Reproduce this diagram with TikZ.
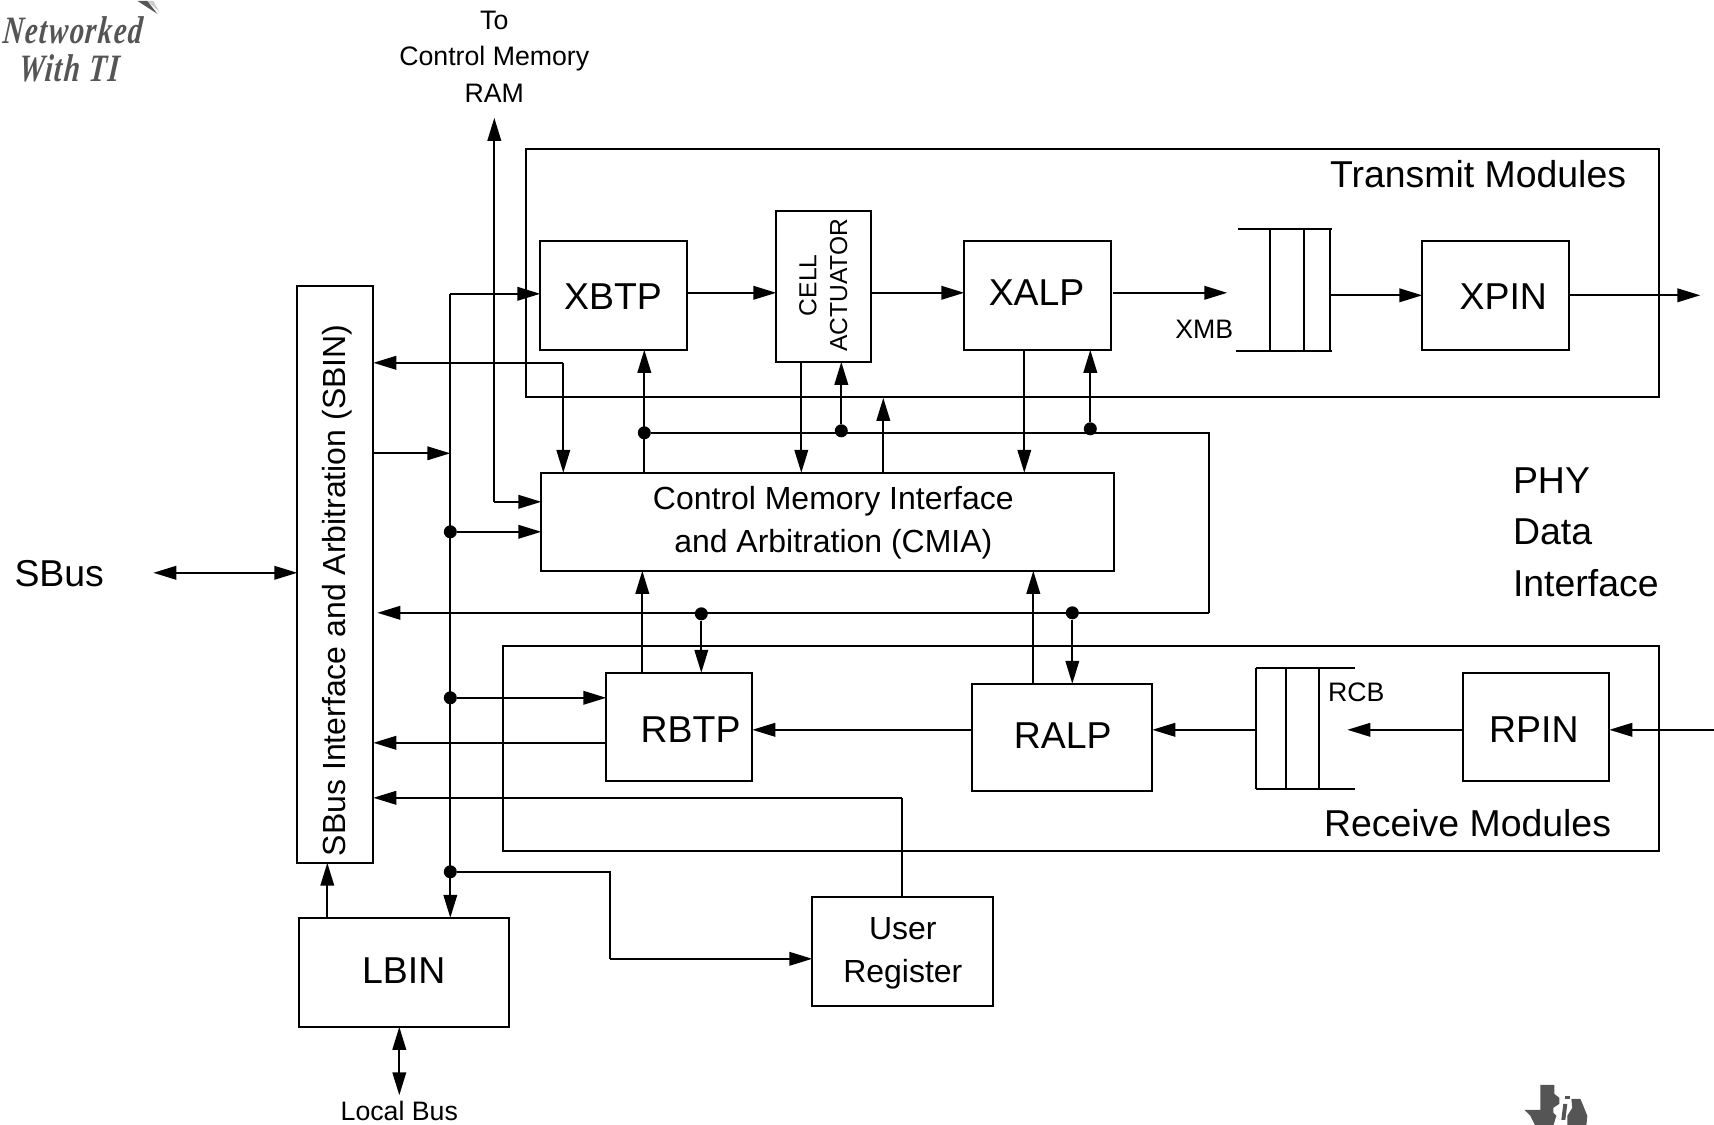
\documentclass[tikz,border=0pt]{standalone}
\usepackage{fontspec}
\setmainfont{Liberation Sans}
\newfontfamily\logofont[FakeSlant=0.12, LetterSpace=5]{Liberation Serif}
\usetikzlibrary{arrows.meta}

\tikzset{
  block/.style={draw, line width=1.2pt, inner sep=0pt, outer sep=0pt, align=center},
  wire/.style={line width=1.2pt},
  bigtext/.style={font=\fontsize{21.3}{25}\selectfont},
  midtext/.style={font=\fontsize{18.2}{24.4}\selectfont},
  smalltext/.style={font=\fontsize{15.2}{20.8}\selectfont},
  logotext/.style={font=\fontsize{21}{25}\logofont\bfseries\itshape, text=logogray, xscale=0.78, yscale=1.05, transform shape, inner sep=0pt},
  joint/.style={circle, fill=black, inner sep=0pt, minimum size=0.26cm}
}
\definecolor{logogray}{HTML}{555555}

\begin{document}
\begin{tikzpicture}[x=0.02cm, y=-0.02cm, >={Triangle[length=0.46cm, width=0.27cm]}]

\useasboundingbox (0,0) rectangle (1714,1125);

\begin{scope}[shift={(0.3,0.8)}]

%% =============== Module frames ===============
\node[block, minimum width=22.66cm, minimum height=4.96cm] (transmit) at (1092.5,272.5) {};
\node[block, minimum width=23.12cm, minimum height=4.10cm] (receive) at (1081,747.5) {};
\node[bigtext, anchor=east] (transmitlabel) at (1632,173.5) {Transmit Modules};
\node[bigtext, anchor=east] (receivelabel) at (1617,822) {Receive Modules};

%% =============== Blocks ===============
\node[block, minimum width=1.52cm, minimum height=11.54cm] (sbin) at (335,573.5) {};
\node[midtext, rotate=90] (sbinlabel) at (337,589.5) {SBus Interface and Arbitration (SBIN)};
\node[block, minimum width=4.20cm, minimum height=2.18cm] (lbin) at (404,971.5) {};
\node[bigtext] (lbinlabel) at (403.4,969.6) {LBIN};
\node[block, minimum width=3.62cm, minimum height=2.18cm] (userreg) at (902.5,950.5) {};
\node[midtext, align=center] (userlabel) at (902.5,952.5) {User\\Register};
\node[block, minimum width=11.46cm, minimum height=1.96cm] (cmia) at (827.5,521) {};
\node[midtext, align=center] (cmialabel) at (833,522.1) {Control Memory Interface\\and Arbitration (CMIA)};

\node[block, minimum width=2.94cm, minimum height=2.18cm] (xbtp) at (613.5,294.5) {};
\node[bigtext] (xbtplabel) at (612.7,295.7) {XBTP};
\node[block, minimum width=1.90cm, minimum height=3.02cm] (cell) at (823.5,285.5) {};
\node[font=\fontsize{14}{17.4}\selectfont, rotate=90, align=center] (celllabel) at (823,284.5) {CELL\\ACTUATOR};
\node[block, minimum width=2.94cm, minimum height=2.18cm] (xalp) at (1037.5,294.5) {};
\node[bigtext] (xalplabel) at (1036.3,291.4) {XALP};
\node[block, minimum width=2.94cm, minimum height=2.18cm] (xpin) at (1495.5,294.5) {};
\node[bigtext] (xpinlabel) at (1503,295.7) {XPIN};

\node[block, minimum width=2.92cm, minimum height=2.16cm] (rbtp) at (679,726) {};
\node[bigtext] (rbtplabel) at (690.3,728.6) {RBTP};
\node[block, minimum width=3.60cm, minimum height=2.14cm] (ralp) at (1062,736.5) {};
\node[bigtext] (ralplabel) at (1062.5,735.2) {RALP};
\node[block, minimum width=2.92cm, minimum height=2.16cm] (rpin) at (1536,726) {};
\node[bigtext] (rpinlabel) at (1533.6,728.6) {RPIN};

%% =============== Buffers ===============
\draw[wire] (1238,228) -- (1332,228);
\draw[wire] (1236,350) -- (1332,350);
\draw[wire] (1270,228) -- (1270,350);
\draw[wire] (1304,228) -- (1304,350);
\draw[wire] (1330,228) -- (1330,351);
\node[smalltext] (xmblabel) at (1204,329) {XMB};

\draw[wire] (1256,667) -- (1355,667);
\draw[wire] (1256,788) -- (1355,788);
\draw[wire] (1256,667) -- (1256,788);
\draw[wire] (1285.5,667) -- (1285.5,788);
\draw[wire] (1319,667) -- (1319,788);
\node[smalltext] (rcblabel) at (1356,692) {RCB};

%% =============== Free ends and junctions ===============
\coordinate (xrow) at (700,292);
\coordinate (xmbin) at (1227,292);
\coordinate (xmbout) at (1330,294.5);
\coordinate (phyout) at (1700,294.5);
\coordinate (phyin) at (1714,729);
\coordinate (rcbin) at (1347,729);
\coordinate (rcbout) at (1256,729);
\coordinate (busTop) at (450,293);
\coordinate (memTop) at (494,117);
\coordinate (memIn) at (494,501);
\coordinate (sbinTap) at (563,362);
\coordinate (rightTop) at (1209,432);
\coordinate (rightBot) at (1209,612);
\coordinate (regTop) at (902,797);
\coordinate (regBend) at (610,871);
\coordinate (regIn) at (610,958);

\node[joint] (jxbtp) at (644,432) {};
\node[joint] (jcell) at (841,430) {};
\node[joint] (jxalp) at (1090,428) {};
\node[joint] (jrbtp) at (701,613) {};
\node[joint] (jralp) at (1072,612) {};
\node[joint] (jbusa) at (450,531) {};
\node[joint] (jbusb) at (450,697) {};
\node[joint] (jbusc) at (450,871) {};

%% =============== Transmit path ===============
\draw[->, wire] (xbtp.east |- xrow) -- (cell.west |- xrow);
\draw[->, wire] (cell.east |- xrow) -- (xalp.west |- xrow);
\draw[->, wire] ([xshift=0.04cm]xalp.east |- xmbin) -- (xmbin);
\draw[->, wire] (xmbout) -- (xpin.west);
\draw[->, wire] (xpin.east) -- (phyout);

%% =============== Receive path ===============
\draw[->, wire] (phyin) -- (rpin.east |- phyin);
\draw[->, wire] (rpin.west |- rcbin) -- (rcbin);
\draw[->, wire] (rcbout) -- (ralp.east |- rcbout);
\draw[->, wire] (ralp.west |- rcbout) -- (rbtp.east |- rcbout);
\draw[->, wire] (rbtp.west |- 0,742) -- (sbin.east |- 0,742);

%% =============== Local bus ===============
\draw[->, wire] (busTop) -- (xbtp.west |- busTop);
\draw[->, wire] (busTop) -- (busTop |- lbin.north);
\draw[->, wire] (sbin.east |- 0,452.5) -- (450,452.5);
\draw[->, wire] (jbusa) -- (cmia.west |- jbusa);
\draw[->, wire] (jbusb) -- (rbtp.west |- jbusb);
\draw[wire] (jbusc) -- (regBend) -- (regIn);
\draw[->, wire] (regIn) -- (userreg.west |- regIn);

%% =============== Control memory ===============
\draw[->, wire] (memIn) -- (memTop);
\draw[->, wire] (memIn) -- (cmia.west |- memIn);
\draw[->, wire] (sbinTap) -- (sbin.east |- sbinTap);
\draw[->, wire] (sbinTap) -- (cmia.north -| sbinTap);

%% =============== Shared line round the control block ===============
\draw[wire] (jxbtp) -- (rightTop) -- (rightBot);
\draw[->, wire] (rightBot) -- (377,612);
\draw[->, wire] (cmia.north -| jxbtp) -- (xbtp.south -| jxbtp);
\draw[->, wire] (801,361) -- (cmia.north -| 801,0);
\draw[->, wire] (jcell) -- (cell.south -| jcell);
\draw[->, wire] (cmia.north -| 883,0) -- (883,397);
\draw[->, wire] (1024,349) -- (cmia.north -| 1024,0);
\draw[->, wire] (jxalp) -- (xalp.south -| jxalp);

\draw[->, wire] (642,672) -- (cmia.south -| 642,0);
\draw[->, wire] (jrbtp) -- (rbtp.north -| jrbtp);
\draw[->, wire] (1033,683) -- (cmia.south -| 1033,0);
\draw[->, wire] (jralp) -- (ralp.north -| jralp);

%% =============== Left side ===============
\draw[->, wire] (regTop) -- (sbin.east |- regTop);
\draw[wire] (userreg.north -| regTop) -- (regTop);
\draw[->, wire] (lbin.north -| 327,0) -- (sbin.south -| 327,0);

%% =============== Outer labels ===============
\node[bigtext, anchor=west] (sbuslabel) at (8,573) {SBus};
\coordinate (sbusend) at (153,572);
\draw[<->, wire] (sbusend) -- (sbin.west |- sbusend);

\node[smalltext] (locallabel) at (399,1110.5) {Local Bus};
\draw[<->, wire] (399,1026) -- (locallabel.north -| 399,0);

\node[smalltext, align=center] (ramlabel) at (494,56) {To\\Control Memory\\RAM};

\node[font=\fontsize{21.3}{29.5}\selectfont, align=left, anchor=west] (phylabel) at (1506.5,531.5) {PHY\\Data\\Interface};

%% =============== Logo marks ===============
\node[logotext, anchor=west] (logoa) at (2,29) {Networked};
\node[logotext, anchor=west] (logob) at (18,68) {With TI};
\fill[logogray] (137,0) -- (157,13) -- (147,0) -- cycle;
\fill[gray!40] (147,0) -- (159,11) -- (153,0) -- cycle;

\fill[logogray] (1540,1084) -- (1554,1084) -- (1554,1093) -- (1559,1097) -- (1559,1103) -- (1553,1107)
  -- (1553,1112) -- (1556,1115) -- (1553,1125) -- (1535,1125) -- (1530,1115) -- (1524,1109) -- (1540,1109) -- cycle;
\fill[logogray] (1561,1119) -- (1565,1119) -- (1567,1103) -- (1563,1103) -- cycle;
\fill[logogray] (1565,1095) -- (1570,1095) -- (1570,1098) -- (1565,1098) -- cycle;
\fill[logogray] (1571,1098) -- (1580,1098) -- (1583,1105) -- (1587,1115) -- (1586,1125) -- (1567,1125)
  -- (1567,1115) -- (1572,1107) -- cycle;

\end{scope}

\end{tikzpicture}
\end{document}
